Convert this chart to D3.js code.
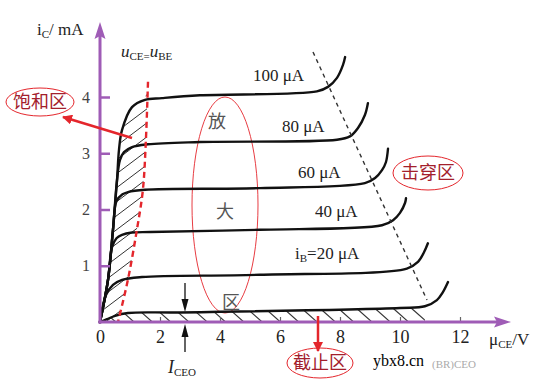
<!DOCTYPE html>
<html><head><meta charset="utf-8">
<script src="https://cdn.jsdelivr.net/npm/d3@7"></script>
<style>
html,body{margin:0;padding:0;background:#fff;}
svg{display:block;}
text{font-family:"Liberation Serif","DejaVu Serif",serif;}
.cjk{font-family:"Noto Sans CJK SC",sans-serif;}
</style></head>
<body>
<svg id="c" width="553" height="392"></svg>
<script>
// ---- data (V, mA) ----
const xTicks = [0, 2, 4, 6, 8, 10, 12];
const yTicks = [1, 2, 3, 4];
const curveLabels = ["100 μA", "80 μA", "60 μA", "40 μA", "20 μA"];
const ib100 = [[0,0],[0.267,0.75],[0.433,1.64],[0.567,2.52],[0.633,3.06],[0.733,3.41],[1.067,3.82],[1.5,3.95],[2.067,3.98],[3.33,4.03],[7.23,4.1],[7.6,4.18],[7.9,4.34],[8.1,4.57],[8.17,4.71]];
const ib80 = [[0,0],[0.267,0.75],[0.433,1.64],[0.567,2.52],[0.667,2.88],[0.8,3.02],[1.067,3.11],[1.6,3.16],[3.33,3.2],[7.9,3.24],[8.33,3.3],[8.6,3.45],[8.83,3.68],[8.93,3.89]];
const ib60 = [[0,0],[0.267,0.75],[0.433,1.64],[0.55,2.15],[0.75,2.27],[0.933,2.31],[1.5,2.35],[5.33,2.38],[8.83,2.47],[9.17,2.56],[9.4,2.7],[9.53,2.84],[9.6,3.08]];
const ib40 = [[0,0],[0.267,0.75],[0.4,1.33],[0.55,1.49],[0.733,1.55],[1.067,1.59],[1.67,1.6],[5.33,1.64],[9.4,1.72],[9.77,1.81],[10,1.94],[10.17,2.12],[10.2,2.2]];
const ib20 = [[0,0],[0.2,0.48],[0.433,0.66],[0.733,0.75],[1.4,0.8],[5.33,0.84],[10.23,0.95],[10.6,1.07],[10.8,1.24],[10.93,1.4]];
const iceo = [[0,0],[0.233,0.05],[0.5,0.11],[0.933,0.16],[2.67,0.17],[10,0.25],[10.83,0.28],[11.23,0.39],[11.43,0.53],[11.6,0.71]];
const satBoundary = [[1.6,4.27],[1.53,3.24],[1.43,2.35],[1.23,1.64],[0.93,0.75],[0.6,0]];
const breakdownLine = [[7.1,4.8],[10.9,0.39]];

const svg = d3.select("#c");
const x = d3.scaleLinear().domain([0, 12]).range([100, 460]);
const y = d3.scaleLinear().domain([0, 4]).range([322, 97]);
const purple = "#9f5cb6";
const red = "#e4262c";
const darkRed = "#a3202c";

const lineCR = d3.line().x(d => x(d[0])).y(d => y(d[1])).curve(d3.curveCatmullRom.alpha(0.5));
const lineLin = d3.line().x(d => x(d[0])).y(d => y(d[1]));

const defs = svg.append("defs");
const env = ib100.filter(d => d[0] <= 1.6);
defs.append("clipPath").attr("id","satClip").append("path")
  .attr("d", lineCR(env) + lineLin(satBoundary).replace("M","L") + "Z");
defs.append("clipPath").attr("id","cutClip").append("path")
  .attr("d", lineCR(iceo.filter(d => d[0] <= 10.83)) + "L" + x(10.83) + "," + y(0) + "L" + x(0) + "," + y(0) + "Z");

// hatching saturation
const gs = svg.append("g").attr("clip-path","url(#satClip)");
d3.range(-4, 24).forEach(i => {
  const y0 = 330 - i * 14;
  gs.append("line").attr("x1", 95).attr("y1", y0).attr("x2", 160).attr("y2", y0 - 49)
    .attr("stroke","#333").attr("stroke-width",1);
});
// hatching cutoff
const gc = svg.append("g").attr("clip-path","url(#cutClip)");
d3.range(0, 20).forEach(i => {
  const x0 = 100 + i * 18.3;
  gc.append("line").attr("x1", x0).attr("y1", 308).attr("x2", x0 + 18).attr("y2", 324)
    .attr("stroke","#333").attr("stroke-width",1.1);
});

// big ellipse for amplification region
svg.append("ellipse").attr("cx",225).attr("cy",205).attr("rx",33).attr("ry",108)
  .attr("fill","none").attr("stroke",red).attr("stroke-width",0.9);

// curves
[ib100, ib80, ib60, ib40, ib20, iceo].forEach(c => {
  svg.append("path").attr("d", lineCR(c)).attr("fill","none")
    .attr("stroke","#111").attr("stroke-width",2.4).attr("stroke-linecap","round");
});

// breakdown dashed line
svg.append("path").attr("d", lineLin(breakdownLine)).attr("fill","none")
  .attr("stroke","#333").attr("stroke-width",1.4).attr("stroke-dasharray","4,4");

// saturation boundary red dashed
svg.append("path").attr("d", lineCR(satBoundary)).attr("fill","none")
  .attr("stroke",red).attr("stroke-width",2.4).attr("stroke-dasharray","6,4");

// axes
const yAxis = d3.axisLeft(y).tickValues(yTicks).tickFormat(d3.format("d"))
  .tickSizeInner(-10).tickSizeOuter(0).tickPadding(10);
const gy = svg.append("g").attr("transform","translate(100,0)").call(yAxis);
gy.select(".domain").remove();
gy.selectAll(".tick line").attr("stroke",purple).attr("stroke-width",2.5);
gy.selectAll(".tick text").attr("font-size",16).attr("fill","#444")
  .attr("font-family","Liberation Serif, serif");

const xAxis = d3.axisBottom(x).tickValues(xTicks).tickFormat(d3.format("d"))
  .tickSizeInner(-5).tickSizeOuter(0).tickPadding(8);
const gx = svg.append("g").attr("transform","translate(0,322)").call(xAxis);
gx.select(".domain").remove();
gx.selectAll(".tick line").attr("stroke","#666").attr("stroke-width",1.2);
gx.selectAll(".tick text").attr("font-size",18).attr("fill","#222")
  .attr("font-family","Liberation Serif, serif");

// axis lines with arrows
svg.append("line").attr("x1",100).attr("y1",323.5).attr("x2",100).attr("y2",36)
  .attr("stroke",purple).attr("stroke-width",3);
svg.append("path").attr("d","M100,22 L94.5,39 L100,36 L105.5,39 Z").attr("fill",purple);
svg.append("line").attr("x1",98.5).attr("y1",322).attr("x2",497).attr("y2",322)
  .attr("stroke",purple).attr("stroke-width",3);
svg.append("path").attr("d","M511,322 L494,316.5 L497,322 L494,327.5 Z").attr("fill",purple);

// axis titles
const yt = svg.append("text").attr("x",37).attr("y",35).attr("font-size",17).attr("fill","#222");
yt.append("tspan").text("i");
yt.append("tspan").attr("font-size",11).attr("dy",3).text("C");
yt.append("tspan").attr("dy",-3).text("/ mA");
const xt = svg.append("text").attr("x",489).attr("y",345).attr("font-size",17).attr("fill","#222");
xt.append("tspan").text("μ");
xt.append("tspan").attr("font-size",11).attr("dy",3).text("CE");
xt.append("tspan").attr("dy",-3).text("/V");

// uCE = uBE label
const ul = svg.append("text").attr("x",121).attr("y",57).attr("font-size",17).attr("fill","#222");
ul.append("tspan").attr("font-style","italic").text("u");
ul.append("tspan").attr("font-size",11).attr("dy",3).text("CE=");
ul.append("tspan").attr("font-style","italic").attr("font-size",17).attr("dy",-3).text("u");
ul.append("tspan").attr("font-size",11).attr("dy",3).text("BE");

// curve labels
const labPos = [[253,81],[282,132],[298,178],[315,217],[295,259]];
curveLabels.forEach((t, i) => {
  const tx = svg.append("text").attr("x",labPos[i][0]).attr("y",labPos[i][1])
    .attr("font-size",17).attr("fill","#222");
  if (i === 4) {
    tx.append("tspan").text("i");
    tx.append("tspan").attr("font-size",11).attr("dy",3).text("B");
    tx.append("tspan").attr("dy",-3).text("=" + t);
  } else tx.text(t);
});

// region labels in big ellipse
[["放",217,122],["大",225,212],["区",231,303]].forEach(d => {
  svg.append("text").attr("class","cjk").attr("x",d[1]).attr("y",d[2]).attr("dy","0.36em")
    .attr("text-anchor","middle").attr("font-size",18).attr("fill","#555").text(d[0]);
});

// labelled ellipses
function tag(txt, cx, cy, rx, ry) {
  svg.append("ellipse").attr("cx",cx).attr("cy",cy).attr("rx",rx).attr("ry",ry)
    .attr("fill","none").attr("stroke",red).attr("stroke-width",1);
  svg.append("text").attr("class","cjk").attr("x",cx).attr("y",cy).attr("dy","0.36em")
    .attr("text-anchor","middle").attr("font-size",18).attr("fill",darkRed).text(txt);
}
tag("饱和区", 40, 102, 34, 14);
tag("击穿区", 428, 173, 35, 17);
tag("截止区", 320, 363, 33, 15);

// red arrows
defs.append("marker").attr("id","rArr").attr("viewBox","0 0 10 10").attr("refX",9).attr("refY",5)
  .attr("markerWidth",4).attr("markerHeight",4).attr("orient","auto")
  .append("path").attr("d","M0,0 L10,5 L0,10 Z").attr("fill",red);
svg.append("line").attr("x1",132).attr("y1",138).attr("x2",63).attr("y2",117)
  .attr("stroke",red).attr("stroke-width",2.5).attr("marker-end","url(#rArr)");
svg.append("line").attr("x1",318).attr("y1",316).attr("x2",318).attr("y2",351)
  .attr("stroke",red).attr("stroke-width",2.5).attr("marker-end","url(#rArr)");

// ICEO arrows
svg.append("line").attr("x1",185).attr("y1",283).attr("x2",185).attr("y2",302).attr("stroke","#111").attr("stroke-width",1.3);
svg.append("path").attr("d","M185,312 L181.5,299 L188.5,299 Z").attr("fill","#111");
svg.append("line").attr("x1",185).attr("y1",334).attr("x2",185).attr("y2",352).attr("stroke","#111").attr("stroke-width",1.3);
svg.append("path").attr("d","M185,324 L181.5,337 L188.5,337 Z").attr("fill","#111");
const ic = svg.append("text").attr("x",168).attr("y",373).attr("font-size",18).attr("fill","#222");
ic.append("tspan").attr("font-style","italic").text("I");
ic.append("tspan").attr("font-size",11).attr("dy",3).text("CEO");

// faint text + watermark
svg.append("text").attr("x",432).attr("y",368).attr("font-size",11).attr("fill","#aaa").text("(BR)CEO");
svg.append("text").attr("x",373).attr("y",366).attr("font-size",16)
  .attr("font-family","Liberation Sans, Arial, sans-serif").attr("fill","#000").text("ybx8.cn");
</script>
</body></html>
